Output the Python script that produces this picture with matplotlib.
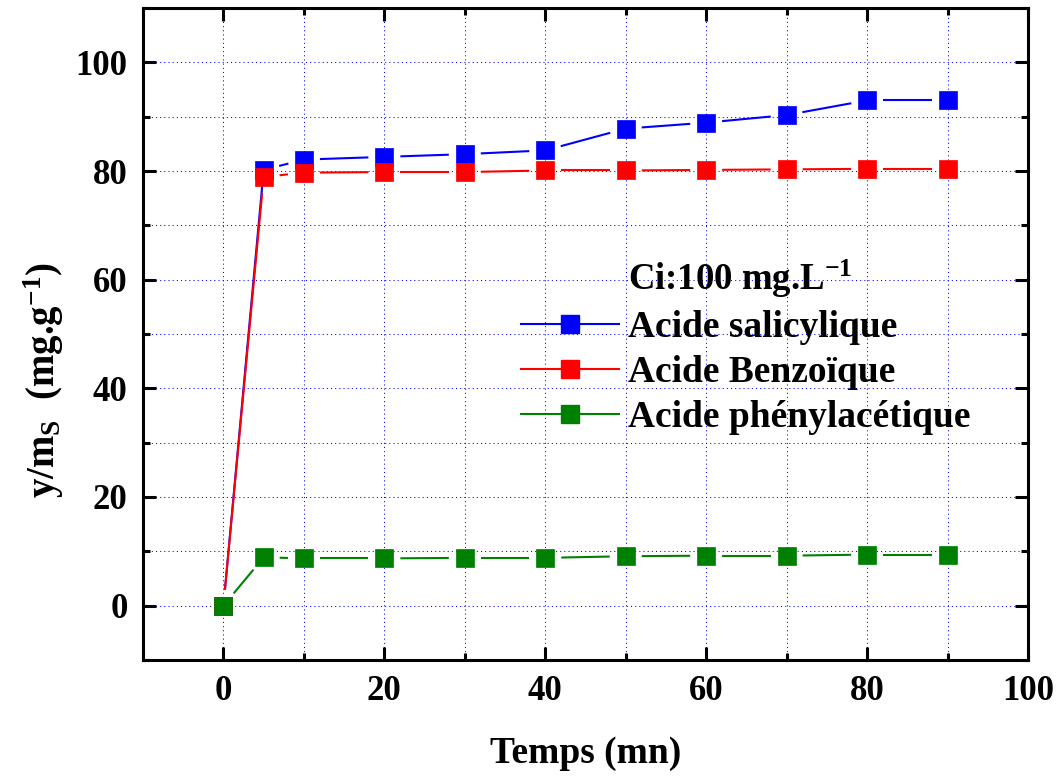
import numpy as np
import matplotlib
matplotlib.use('Agg')
import matplotlib.pyplot as plt
from matplotlib.lines import Line2D
from matplotlib.ticker import MultipleLocator

plt.rcParams['font.family'] = ['Liberation Serif', 'DejaVu Serif']
plt.rcParams['font.weight'] = 'bold'
plt.rcParams['mathtext.fontset'] = 'custom'
plt.rcParams['mathtext.rm'] = 'Liberation Serif:bold'
plt.rcParams['mathtext.it'] = 'Liberation Serif:bold'
plt.rcParams['mathtext.bf'] = 'Liberation Serif:bold'

# time (mn)
temps = [0, 5, 10, 20, 30, 40, 50, 60, 70, 80, 90]

# y/ms (mg/g) for each acid
salicylique = [0, 80.2, 82.1, 82.6, 83.1, 83.8, 87.8, 88.9, 90.3, 93.0, 93.0]
benzoique = [0, 78.9, 79.7, 79.8, 79.8, 80.1, 80.1, 80.2, 80.3, 80.4, 80.4]
phenylacetique = [0, 8.9, 8.7, 8.7, 8.8, 8.8, 9.1, 9.2, 9.2, 9.4, 9.4]

series = [
    (salicylique, 'blue', 'Acide salicylique'),
    (benzoique, 'red', 'Acide Benzoïque'),
    (phenylacetique, 'green', 'Acide phénylacétique'),
]

fig = plt.figure(figsize=(10.6, 7.78), dpi=100)
ax = fig.add_axes([143/1060, 1 - 660/778, 885/1060, 652/778])
ax.set_xlim(-10, 100)
ax.set_ylim(-10, 110)

ms = 13.5
lw = 1.5


def gapped_line(x, y, color, gap=16):
    # Origin style: the line stops short of each symbol
    pts = ax.transData.transform(np.column_stack([x, y]))
    inv = ax.transData.inverted()
    for p0, p1 in zip(pts[:-1], pts[1:]):
        d = p1 - p0
        L = np.hypot(d[0], d[1])
        if L <= 2 * gap:
            continue
        u = d / L
        seg = inv.transform([p0 + u * gap, p1 - u * gap])
        ax.plot(seg[:, 0], seg[:, 1], color=color, lw=lw, solid_capstyle='butt', zorder=2)
    ax.plot(x, y, 's', color=color, ms=ms, mec=color, mew=0.5, zorder=3)


for vals, col, lab in series:
    gapped_line(temps, vals, col)

# axes styling
ax.xaxis.set_major_locator(MultipleLocator(20))
ax.xaxis.set_minor_locator(MultipleLocator(10))
ax.yaxis.set_major_locator(MultipleLocator(20))
ax.yaxis.set_minor_locator(MultipleLocator(10))
ax.set_yticks(range(0, 101, 20))
ax.tick_params(which='both', direction='in', top=True, right=True, width=2.2)
ax.tick_params(which='major', length=9.5, labelsize=25, pad=11)
ax.tick_params(which='minor', length=5)
for lbl in ax.get_xticklabels() + ax.get_yticklabels():
    lbl.set_fontweight('bold')
for sp in ax.spines.values():
    sp.set_linewidth(2.2)

ax.set_axisbelow(True)
ax.grid(which='both', color='blue', linestyle=(0, (1, 3)), lw=0.75)

ax.set_xlabel('Temps (mn)', fontsize=27, fontweight='bold', labelpad=20)
ax.set_ylabel(r'y/m$_\mathrm{S}$  (mg.g$^{-1}$)', fontsize=28, fontweight='bold')
ax.yaxis.set_label_coords(-0.087, 0.43)

# legend with a text-only first row
handles = [Line2D([], [], linestyle='none')]
labels = [r'Ci:100 mg.L$^{-1}$']
for vals, col, lab in series:
    handles.append(Line2D([], [], color=col, lw=lw, marker='s', ms=ms, mec=col))
    labels.append(lab)
leg = ax.legend(handles, labels, loc='upper left',
                bbox_to_anchor=((521 - 143) / 885, (660 - 258) / 652),
                frameon=False, fontsize=27, handlelength=2.6, handletextpad=0.25,
                labelspacing=0.27, borderpad=0, borderaxespad=0)
leg.get_texts()[0].set_fontsize(26.5)

fig.savefig('out.png', dpi=100)
